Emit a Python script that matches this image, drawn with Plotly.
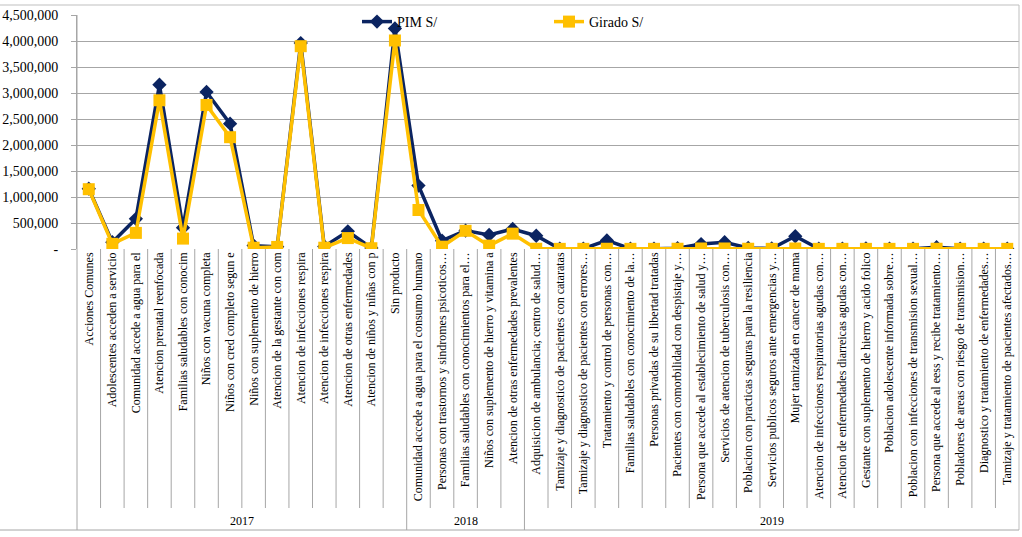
import plotly.graph_objects as go

# ---------------- data ----------------
years = ["2017", "2018", "2019"]

cats_2017 = [
    "Acciones Comunes",
    "Adolescentes acceden a servicio",
    "Comunidad accede a agua para el",
    "Atencion prenatal reenfocada",
    "Familias saludables con conocim",
    "Niños con vacuna completa",
    "Niños con cred completo segun e",
    "Niños con suplemento de hierro",
    "Atencion de la gestante con com",
    "Atencion de infecciones respira",
    "Atencion de infecciones respira",
    "Atencion de otras enfermedades",
    "Atencion de niños y niñas con p",
    "Sin producto",
]
cats_2018 = [
    "Comunidad accede a agua para el consumo humano",
    "Personas con trastornos y sindromes psicoticos…",
    "Familias saludables con conocimientos para el…",
    "Niños con suplemento de hierro y vitamina a",
    "Atencion de otras enfermedades prevalentes",
]
cats_2019 = [
    "Adquisicion de ambulancia; centro de salud…",
    "Tamizaje y diagnostico de pacientes con cataratas",
    "Tamizaje y diagnostico de pacientes con errores…",
    "Tratamiento y control de personas con…",
    "Familias saludables con conocimiento de la…",
    "Personas privadas de su libertad tratadas",
    "Pacientes con comorbilidad con despistaje y…",
    "Persona que accede al establecimiento de salud y…",
    "Servicios de atencion de tuberculosis con…",
    "Poblacion con practicas seguras para la resiliencia",
    "Servicios publicos seguros ante emergencias y…",
    "Mujer tamizada en cancer de mama",
    "Atencion de infecciones respiratorias agudas con…",
    "Atencion de enfermedades diarreicas agudas con…",
    "Gestante con suplemento de hierro y acido folico",
    "Poblacion adolescente informada sobre…",
    "Poblacion con infecciones de transmision sexual…",
    "Persona que accede al eess y recibe tratamiento…",
    "Pobladores de areas con riesgo de transmision…",
    "Diagnostico y tratamiento de enfermedades…",
    "Tamizaje y tratamiento de pacientes afectados…",
]

pim_2017 = [1160000, 130000, 580000, 3160000, 410000, 3020000, 2410000,
            65000, 45000, 3960000, 50000, 340000, 20000, 4240000]
pim_2018 = [1220000, 160000, 355000, 270000, 385000]
pim_2019 = [255000, 5000, 5000, 165000, 5000, 5000, 15000, 95000, 130000,
            20000, 10000, 245000, 5000, 5000, 10000, 5000, 5000, 35000,
            5000, 5000, 5000]

girado_2017 = [1150000, 100000, 310000, 2860000, 200000, 2770000, 2150000,
               25000, 40000, 3900000, 25000, 210000, 15000, 4010000]
girado_2018 = [750000, 45000, 350000, 65000, 295000]
girado_2019 = [5000, 3000, 3000, 5000, 3000, 3000, 5000, 10000, 10000,
               5000, 3000, 10000, 3000, 3000, 3000, 3000, 3000, 5000,
               3000, 3000, 3000]

y_tickvals = [0, 500000, 1000000, 1500000, 2000000, 2500000, 3000000,
              3500000, 4000000, 4500000]
y_ticktext = ["-", "500,000", "1,000,000", "1,500,000", "2,000,000",
              "2,500,000", "3,000,000", "3,500,000", "4,000,000", "4,500,000"]

# ---------------- build ----------------
cats = cats_2017 + cats_2018 + cats_2019
pim = pim_2017 + pim_2018 + pim_2019
girado = girado_2017 + girado_2018 + girado_2019
group_sizes = [len(cats_2017), len(cats_2018), len(cats_2019)]
xs = list(range(len(cats)))
n = len(cats)

W, H = 1022, 537
L, R, T, B = 77, 3, 15, 288
PW, PH = W - L - R, H - T - B

def py(pix):
    return (H - B - pix) / PH

def px(pix):
    return (pix - L) / PW

FONT = "Liberation Serif"
GRID = "#A6A6A6"
NAVY = "#0B2461"
GOLD = "#FFC000"

fig = go.Figure()
fig.add_trace(go.Scatter(
    x=xs, y=pim, name="PIM S/", mode="lines+markers",
    line=dict(color=NAVY, width=3.5),
    marker=dict(symbol="diamond", size=11, color=NAVY),
    legend="legend", showlegend=True,
))
fig.add_trace(go.Scatter(
    x=xs, y=girado, name="Girado S/", mode="lines+markers",
    line=dict(color=GOLD, width=3.5),
    marker=dict(symbol="square", size=12, color=GOLD),
    legend="legend2", showlegend=True,
))

shapes = []
bounds = set()
acc = 0
for s in group_sizes:
    acc += s
    bounds.add(acc)
for i in range(1, n):
    y1 = py(530) if i in bounds else py(508)
    shapes.append(dict(type="line", xref="x", yref="paper", x0=i - 0.5, x1=i - 0.5,
                       y0=0, y1=y1, line=dict(color=GRID, width=1)))
shapes.append(dict(type="line", xref="paper", yref="paper", x0=0, x1=0,
                   y0=1, y1=py(530), line=dict(color=GRID, width=1)))
shapes.append(dict(type="line", xref="paper", yref="paper", x0=px(0), x1=1,
                   y0=py(5), y1=py(5), line=dict(color="#BFBFBF", width=1)))
shapes.append(dict(type="line", xref="paper", yref="paper", x0=1, x1=1,
                   y0=py(5), y1=py(530), line=dict(color="#BFBFBF", width=1)))
shapes.append(dict(type="line", xref="paper", yref="paper", x0=px(0), x1=1,
                   y0=py(530), y1=py(530), line=dict(color=GRID, width=1)))

annotations = []
acc = 0
for yr, s in zip(years, group_sizes):
    center = acc + (s - 1) / 2
    annotations.append(dict(text=yr, x=center, xref="x", y=py(521), yref="paper",
                            showarrow=False, font=dict(family=FONT, size=12, color="black"),
                            xanchor="center", yanchor="middle"))
    acc += s

fig.update_layout(
    width=W, height=H,
    margin=dict(l=L, r=R, t=T, b=B),
    paper_bgcolor="white", plot_bgcolor="white",
    font=dict(family=FONT, color="black"),
    showlegend=True,
    shapes=shapes, annotations=annotations,
    legend=dict(x=px(357), y=py(22), xanchor="left", yanchor="middle",
                bgcolor="rgba(0,0,0,0)", font=dict(family=FONT, size=14, color="black")),
    legend2=dict(x=px(549), y=py(22), xanchor="left", yanchor="middle",
                 bgcolor="rgba(0,0,0,0)", font=dict(family=FONT, size=14, color="black")),
    xaxis=dict(
        range=[-0.5, n - 0.5], tickmode="array", tickvals=xs, ticktext=cats,
        tickangle=-90, ticks="", showgrid=False, zeroline=False, showline=False,
        tickfont=dict(family=FONT, size=12, color="black"), fixedrange=True,
    ),
    yaxis=dict(
        range=[0, 4500000], tickmode="array", tickvals=y_tickvals, ticktext=y_ticktext,
        showgrid=True, gridcolor=GRID, gridwidth=1, zeroline=False,
        showline=True, linecolor=GRID, ticks="outside", ticklen=5, tickcolor=GRID,
        ticklabelstandoff=10,
        tickfont=dict(family=FONT, size=14, color="black"),
    ),
)

fig.write_html("out.html")
